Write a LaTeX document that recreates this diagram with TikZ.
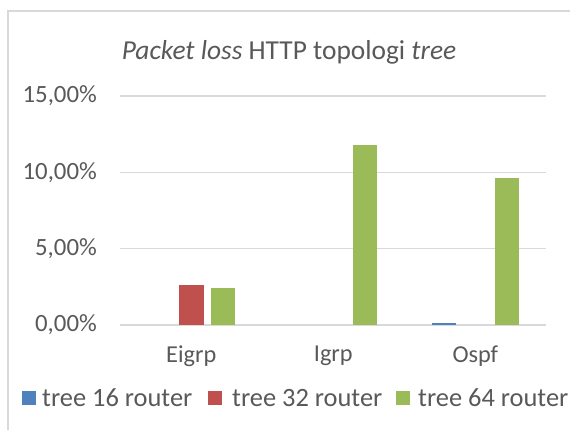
\documentclass[tikz,border=0pt]{standalone}
\usepackage{fontspec}
\setmainfont{Carlito}
\definecolor{sblue}{HTML}{4F81BD}
\definecolor{sred}{HTML}{C0504D}
\definecolor{sgreen}{HTML}{9BBB59}
\definecolor{gridgray}{HTML}{D9D9D9}
\definecolor{txtgray}{HTML}{595959}
\tikzset{
  axislabel/.style={text=txtgray, font=\fontsize{24.8}{28}\selectfont, inner sep=0pt},
  catlabel/.style={text=txtgray, font=\fontsize{24.3}{28}\selectfont, inner sep=0pt},
  legendtext/.style={text=txtgray, font=\fontsize{26.4}{30}\selectfont, inner sep=0pt, anchor=west},
  gridline/.style={draw=gridgray, line width=1.3pt},
  legendkey/.style={minimum size=14pt, inner sep=0pt, anchor=west},
}
% y-axis scale: 1 % = 15.27 units, baseline at y = 325
\newcommand{\databar}[3]{%
  \fill[#3] (#1-12.3,325) rectangle (#1+12.3,{325-#2*15.27});}
\begin{document}
\begin{tikzpicture}[x=1pt,y=-1pt]
\useasboundingbox (0,0) rectangle (570,430);
\fill[white] (0,0) rectangle (570,430);
% chart frame
\draw[gridgray, line width=1.2pt] (8,11) rectangle (620,470);
% title
\node[text=txtgray, font=\fontsize{27.4}{30}\selectfont, inner sep=0pt] (title) at (289,52)
  {\textit{Packet loss} HTTP topologi \textit{tree}};
% gridlines and value axis labels
\foreach \v/\lab in {0/{0,00\%},5/{5,00\%},10/{10,00\%},15/{15,00\%}}{
  \draw[gridline] (120,{325-\v*15.27}) -- (546,{325-\v*15.27});
  \node[axislabel, anchor=east] (ylab\v) at (97,{325-\v*15.27}) {\lab};
}
% bars: Eigrp (tree 16 router is 0 %)
\databar{191.3}{2.6}{sred}
\databar{222.8}{2.4}{sgreen}
% bars: Igrp (tree 16 and tree 32 router are 0 %)
\databar{364.8}{11.8}{sgreen}
% bars: Ospf (tree 32 router is 0 %)
\databar{443.8}{0.1}{sblue}
\databar{506.8}{9.65}{sgreen}
% category labels
\node[catlabel] (cat1) at (191.3,356) {Eigrp};
\node[catlabel] (cat2) at (333.3,356) {Igrp};
\node[catlabel] (cat3) at (475.3,356) {Ospf};
% legend
\node[legendkey, fill=sblue] (key1) at (22,398) {};
\node[legendtext] (leg1) at (42,398) {tree 16 router};
\node[legendkey, fill=sred] (key2) at (208,398) {};
\node[legendtext] (leg2) at (232,398) {tree 32 router};
\node[legendkey, fill=sgreen] (key3) at (396,398) {};
\node[legendtext] (leg3) at (418,398) {tree 64 router};
\end{tikzpicture}
\end{document}
